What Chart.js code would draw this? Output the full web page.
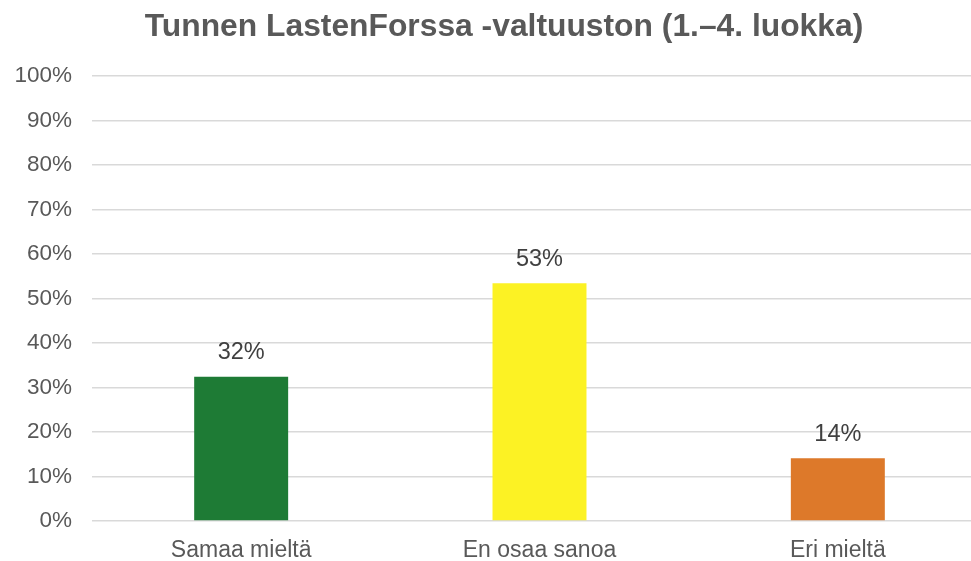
<!DOCTYPE html>
<html>
<head>
<meta charset="utf-8">
<script src="https://cdn.jsdelivr.net/npm/chart.js@4/dist/chart.umd.min.js"></script>
<style>
html,body{margin:0;padding:0;background:#fff;}
#wrap{width:971px;height:561px;overflow:hidden;position:relative;}
</style>
</head>
<body>
<div id="wrap"><canvas id="c" width="987" height="561"></canvas></div>
<script>
const categories = ["Samaa mieltä", "En osaa sanoa", "Eri mieltä"];
const values = [32.4, 53.4, 14.1];
const valueLabels = ["32%", "53%", "14%"];
const barColors = ["#1E7B35", "#FCF224", "#DD792A"];
const titleText = "Tunnen LastenForssa -valtuuston (1.–4. luokka)";

const labelPlugin = {
  id: 'valueLabels',
  afterDatasetsDraw(chart) {
    const ctx = chart.ctx;
    const meta = chart.getDatasetMeta(0);
    ctx.save();
    ctx.font = '23.5px "Liberation Sans", Arial, sans-serif';
    ctx.fillStyle = '#404040';
    ctx.textAlign = 'center';
    ctx.textBaseline = 'middle';
    meta.data.forEach((bar, i) => {
      ctx.fillText(valueLabels[i], bar.x, bar.y - 24);
    });
    ctx.restore();
  }
};

const titlePlugin = {
  id: 'offsetTitle',
  afterDraw(chart) {
    const ctx = chart.ctx;
    ctx.save();
    ctx.font = 'bold 31.8px "Liberation Sans", Arial, sans-serif';
    ctx.fillStyle = '#595959';
    ctx.textAlign = 'center';
    ctx.textBaseline = 'middle';
    ctx.fillText(titleText, 504, 27.6);
    ctx.restore();
  }
};

new Chart(document.getElementById('c'), {
  type: 'bar',
  data: {
    labels: categories,
    datasets: [{
      data: values,
      backgroundColor: barColors,
      borderWidth: 0,
      barPercentage: 0.315,
      categoryPercentage: 1.0
    }]
  },
  options: {
    responsive: false,
    animation: false,
    devicePixelRatio: 1,
    layout: { padding: { left: 0, right: 0, top: 76, bottom: 0 } },
    plugins: {
      legend: { display: false },
      tooltip: { enabled: false },
      title: { display: false }
    },
    scales: {
      x: {
        grid: { display: false, drawTicks: false },
        border: { display: false },
        ticks: {
          color: '#595959',
          font: { family: '"Liberation Sans", Arial, sans-serif', size: 23 },
          padding: 16
        },
        afterFit(s) { s.height = 40; }
      },
      y: {
        min: 0, max: 100,
        ticks: {
          stepSize: 10,
          color: '#595959',
          font: { family: '"Liberation Sans", Arial, sans-serif', size: 22.5 },
          padding: 20,
          callback: v => v + '%'
        },
        grid: { color: '#D9D9D9', lineWidth: 1.5, drawTicks: false },
        border: { display: false },
        afterFit(s) { s.width = 92; }
      }
    }
  },
  plugins: [labelPlugin, titlePlugin]
});
</script>
</body>
</html>
